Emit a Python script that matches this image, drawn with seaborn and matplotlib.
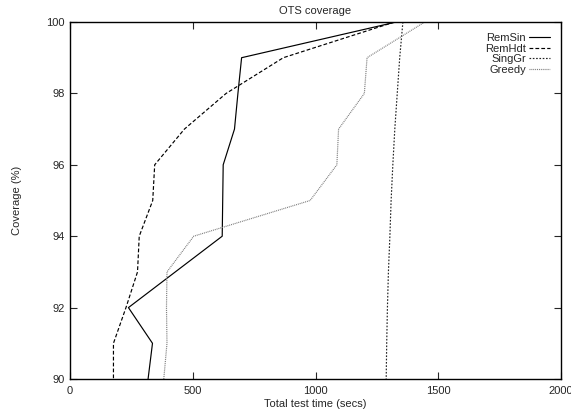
import matplotlib
matplotlib.use("Agg")
import matplotlib.pyplot as plt
import seaborn as sns
import pandas as pd

coverage = [100, 99, 98, 97, 96, 95, 94, 93, 92, 91, 90]
remsin = [1329, 699, 684, 670, 624, 622, 620, 429, 238, 336, 318]
remhdt = [1322, 869, 636, 466, 345, 337, 282, 275, 228, 177, 177]
singgr = [1356, 1343, 1333, 1323, 1315, 1308, 1303, 1297, 1293, 1290, 1288]
greedy = [1445, 1210, 1199, 1094, 1087, 978, 504, 395, 393, 395, 382]

series_names = ["RemSin", "RemHdt", "SingGr", "Greedy"]
series_vals = [remsin, remhdt, singgr, greedy]
x_ticks = [0, 500, 1000, 1500, 2000]
y_ticks = [90, 92, 94, 96, 98, 100]

sns.set_style("ticks")
plt.rcParams["font.family"] = ["Liberation Sans", "DejaVu Sans"]

fig = plt.figure(figsize=(5.71, 4.11), dpi=100)
ax = fig.add_axes([70/571, 1 - 379/411, (561 - 70)/571, (379 - 22)/411])

styles = {
    "RemSin": dict(color="black", dashes=None),
    "RemHdt": dict(color="black", dashes=(3.2, 1.8)),
    "SingGr": dict(color="#222222", dashes=(1.4, 1.4)),
    "Greedy": dict(color="#777777", dashes=(0.8, 0.8)),
}

for name, vals in zip(series_names, series_vals):
    df = pd.DataFrame({"time": vals, "cov": coverage})
    sns.lineplot(data=df, x="time", y="cov", sort=False, estimator=None,
                 ax=ax, color=styles[name]["color"], linewidth=0.85, label=name)
    line = ax.lines[-1]
    if styles[name]["dashes"] is not None:
        line.set_dashes(styles[name]["dashes"])

ax.set_xlim(0, 2000)
ax.set_ylim(90, 100)
ax.set_xticks(x_ticks)
ax.set_yticks(y_ticks)
ax.tick_params(axis="both", direction="in", top=True, right=True, labelsize=8,
               length=5, width=0.8)
ax.tick_params(axis="x", pad=5)
ax.tick_params(axis="y", pad=4)
for s in ax.spines.values():
    s.set_linewidth(1.0)
    s.set_color("black")
ax.set_xlabel("Total test time (secs)", fontsize=8, labelpad=2)
ax.set_ylabel("Coverage (%)", fontsize=8, labelpad=17)
ax.set_title("OTS coverage", fontsize=8, pad=6)

leg = ax.legend(loc="upper right", frameon=False, markerfirst=False, fontsize=8,
                handlelength=1.9, labelspacing=0.05, borderaxespad=0.6,
                handletextpad=0.25)
for t in leg.get_texts():
    t.set_ha("right")

fig.savefig("out.png", dpi=100)
